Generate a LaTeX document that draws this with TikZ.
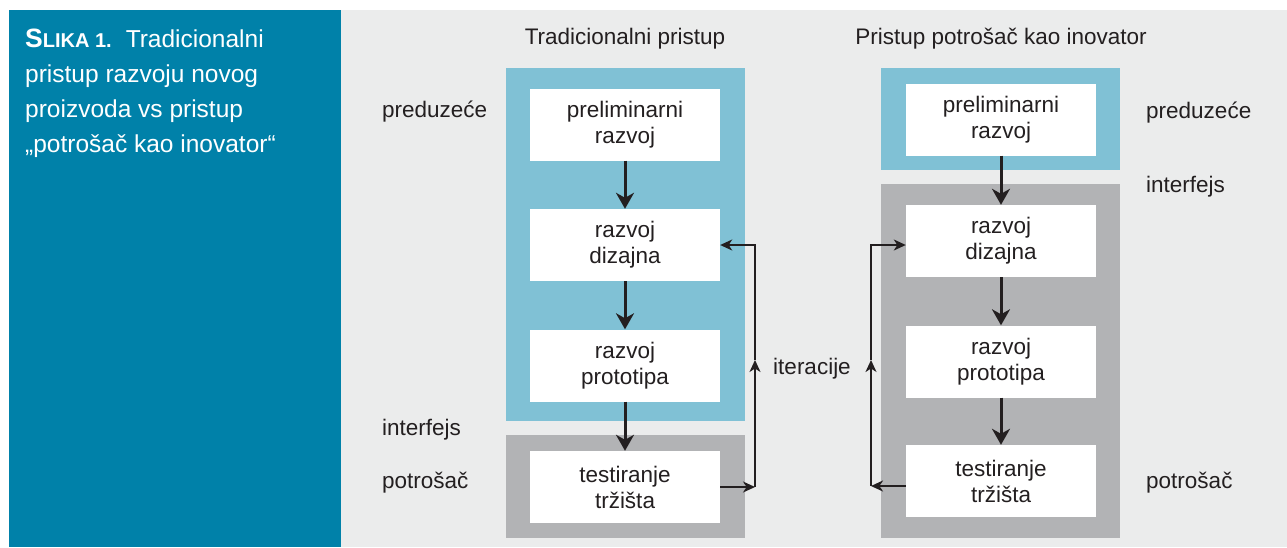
\documentclass[tikz,border=0pt]{standalone}
\usepackage{fontspec}
\setmainfont{Liberation Sans}
\usetikzlibrary{arrows.meta}

\definecolor{captionteal}{HTML}{0081A9}
\definecolor{panelbg}{HTML}{EBECEC}
\definecolor{firmblue}{HTML}{80C1D5}
\definecolor{bandgray}{HTML}{B2B3B5}
\definecolor{inkdark}{HTML}{231F20}

\begin{document}
\begin{tikzpicture}[x=1pt,y=-1pt,
  every node/.style={text=inkdark, inner sep=0pt},
  bodyfont/.style={font=\fontsize{22.5}{26}\selectfont},
  stepbox/.style={bodyfont, fill=white, minimum width=190pt, minimum height=72pt, align=center},
  sidelabel/.style={bodyfont, anchor=base west},
  flowarrow/.style={draw=inkdark, line width=3pt, -{Stealth[length=16pt,width=18pt,inset=5pt]}},
  loopline/.style={draw=inkdark, line width=1.5pt, -{Stealth[length=12pt,width=11pt,inset=3.5pt]}},
]
\useasboundingbox (0,0) rectangle (1287,547);
\fill[white] (0,0) rectangle (1287,547);
\fill[panelbg] (341,10) rectangle (1287,547);
\fill[captionteal] (9,10) rectangle (341,547);

% caption
\node[anchor=north west, align=left, text=white,
      font=\fontsize{24.5}{35}\selectfont] (caption) at (25,29)
  {\textbf{{\fontsize{26.5}{35}\selectfont S}{\fontsize{20}{35}\selectfont LIKA 1.}}\hspace{14pt}Tradicionalni\\
   pristup razvoju novog\\
   proizvoda vs pristup\\
   „potrošač kao inovator“};

% column headings
\node[bodyfont, anchor=base] (headL) at (625,44) {Tradicionalni pristup};
\node[bodyfont, anchor=base] (headR) at (1001,44) {Pristup potrošač kao inovator};

% traditional approach: company and consumer bands
\fill[firmblue] (506,68) rectangle (745,421);
\fill[bandgray] (506,435) rectangle (745,538);

% consumer-as-innovator approach: company and interface bands
\fill[firmblue] (881,68) rectangle (1120,170);
\fill[bandgray] (881,184) rectangle (1120,538);

% side labels
\node[sidelabel] (firmL) at (382,117) {preduzeće};
\node[sidelabel] (ifaceL) at (382,435) {interfejs};
\node[sidelabel] (userL) at (382,488) {potrošač};
\node[sidelabel] (firmR) at (1146,118) {preduzeće};
\node[sidelabel] (ifaceR) at (1146,192) {interfejs};
\node[sidelabel] (userR) at (1146,488) {potrošač};
\node[bodyfont, anchor=base] (iter) at (812,374) {iteracije};

% steps, left column
\node[stepbox] (p1) at (625,124.5) {preliminarni\\razvoj};
\node[stepbox] (d1) at (625,245) {razvoj\\dizajna};
\node[stepbox] (r1) at (625,365.5) {razvoj\\prototipa};
\node[stepbox] (t1) at (625,487) {testiranje\\tržišta};

% steps, right column
\node[stepbox] (p2) at (1001,119.5) {preliminarni\\razvoj};
\node[stepbox] (d2) at (1001,241) {razvoj\\dizajna};
\node[stepbox] (r2) at (1001,361.5) {razvoj\\prototipa};
\node[stepbox] (t2) at (1001,481) {testiranje\\tržišta};

% main flow
\draw[flowarrow] (p1) -- (d1);
\draw[flowarrow] (d1) -- (r1);
\draw[flowarrow] (r1) -- (t1);
\draw[flowarrow] (p2) -- (d2);
\draw[flowarrow] (d2) -- (r2);
\draw[flowarrow] (r2) -- (t2);

% iteration loop, left column
\coordinate (L1b) at (755,487);
\coordinate (L1m) at (755,360);
\coordinate (L1t) at (755,245);
\draw[loopline] (t1.east) -- (L1b);
\draw[loopline] (L1b) -- (L1m);
\draw[loopline] (L1m) -- (L1t) -- (d1.east);

% iteration loop, right column
\coordinate (R1b) at (871,486);
\coordinate (R1m) at (871,360);
\coordinate (R1t) at (871,245);
\draw[loopline] (t2.west |- R1b) -- (R1b);
\draw[loopline] (R1b) -- (R1m);
\draw[loopline] (R1m) -- (R1t) -- (d2.west |- R1t);
\end{tikzpicture}
\end{document}
